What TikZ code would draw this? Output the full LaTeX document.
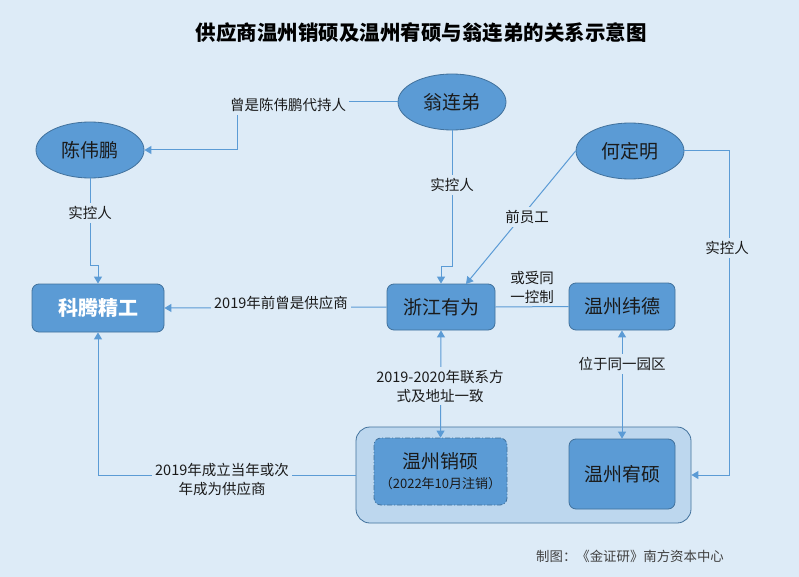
\documentclass[tikz,border=0pt]{standalone}
\usepackage{fontspec}
\setmainfont{Noto Sans CJK SC}
\usetikzlibrary{arrows.meta,shapes.geometric}
\definecolor{bg}{HTML}{DDEBF7}
\definecolor{nodefill}{HTML}{5B9BD5}
\definecolor{nodeline}{HTML}{41719C}
\definecolor{boxfill}{HTML}{BDD7EE}
\definecolor{lnk}{HTML}{5B9BD5}
\definecolor{txt}{HTML}{1A1A1A}
\tikzset{
  person/.style={ellipse,draw=nodeline,fill=nodefill,line width=0.8pt,minimum width=108pt,minimum height=56pt,font=\fontsize{19}{22}\selectfont,text=txt},
  firm/.style={rounded corners=7pt,draw=nodeline,fill=nodefill,line width=0.8pt,font=\fontsize{19}{22}\selectfont,text=txt},
  lbl/.style={fill=bg,inner sep=3pt,align=center,font=\fontsize{14.5}{19}\selectfont,text=txt},
  conn/.style={draw=lnk,line width=1pt},
  arr/.style={conn,-{Triangle[length=7pt,width=8pt]}},
  arr2/.style={conn,{Triangle[length=7pt,width=8pt]}-{Triangle[length=7pt,width=8pt]}},
}
\begin{document}
\begin{tikzpicture}[x=1pt,y=-1pt]
\fill[bg] (0,0) rectangle (799,577);
\useasboundingbox (0,0) rectangle (799,577);
\node[font=\fontsize{20.5}{24}\selectfont\bfseries,text=black] (title) at (421,33) {供应商温州销硕及温州宥硕与翁连弟的关系示意图};
% nodes
\node[person] (weng) at (452,102) {翁连弟};
\node[person] (chen) at (90,150) {陈伟鹏};
\node[person] (he) at (630,151) {何定明};
\node[firm,minimum width=132pt,minimum height=48pt,text=white,font=\fontsize{20}{24}\selectfont\bfseries] (keteng) at (98,308) {科腾精工};
\node[firm,minimum width=108pt,minimum height=46pt] (youwei) at (441,307) {浙江有为};
\node[firm,minimum width=106pt,minimum height=47pt] (weide) at (622,306.5) {温州纬德};
\node[rounded corners=14pt,draw=nodeline,fill=boxfill,line width=0.8pt,minimum width=335pt,minimum height=96pt] (group) at (523.5,475) {};
\node[firm,dashed,dash pattern=on 5pt off 2pt on 1pt off 2pt,minimum width=133pt,minimum height=67pt,align=center] (xiaoshuo) at (440.5,471.5) {温州销硕\\[-2pt]{\fontsize{13}{15}\selectfont （2022年10月注销）}};
\node[firm,minimum width=106pt,minimum height=70pt] (youshuo) at (622,474) {温州宥硕};
% connectors
\draw[arr] (weng.west) -- (237,102) -- (237,150) -- (chen.east);
\node[lbl] (l1) at (288,105) {曾是陈伟鹏代持人};
\draw[arr] (chen.south) -- (90,265) -- (98,265) -- (keteng.north);
\node[lbl] (l2) at (90,213) {实控人};
\draw[arr] (youwei.west) -- (keteng.east);
\node[lbl] (l3) at (281,303) {2019年前曾是供应商};
\draw[arr] (weng.south) -- (452,266) -- (441,266) -- (youwei.north);
\node[lbl] (l4) at (452,185) {实控人};
\coordinate (yw1) at (466,284);
\draw[arr] (he.west) -- (yw1);
\node[lbl] (l5) at (527,217) {前员工};
\draw[arr] (he.east) -- (729,151) -- (729,475) -- (group.east);
\node[lbl] (l6) at (727,248) {实控人};
\draw[conn] (youwei.east) -- (weide.west);
\node[lbl,fill=none] (l7) at (532,287) {或受同\\一控制};
\draw[arr2] (youwei.south) -- (xiaoshuo.north);
\node[lbl] (l8) at (440,386) {2019-2020年联系方\\式及地址一致};
\draw[arr2] (weide.south) -- (youshuo.north);
\node[lbl] (l9) at (622,364) {位于同一园区};
\draw[arr] (group.west) -- (98,475) -- (keteng.south);
\node[lbl] (l10) at (222,479) {2019年成立当年或次\\年成为供应商};
\node[font=\fontsize{13.4}{16}\selectfont,text=black!75] (foot) at (630,556) {制图：《金证研》南方资本中心};
\end{tikzpicture}
\end{document}
